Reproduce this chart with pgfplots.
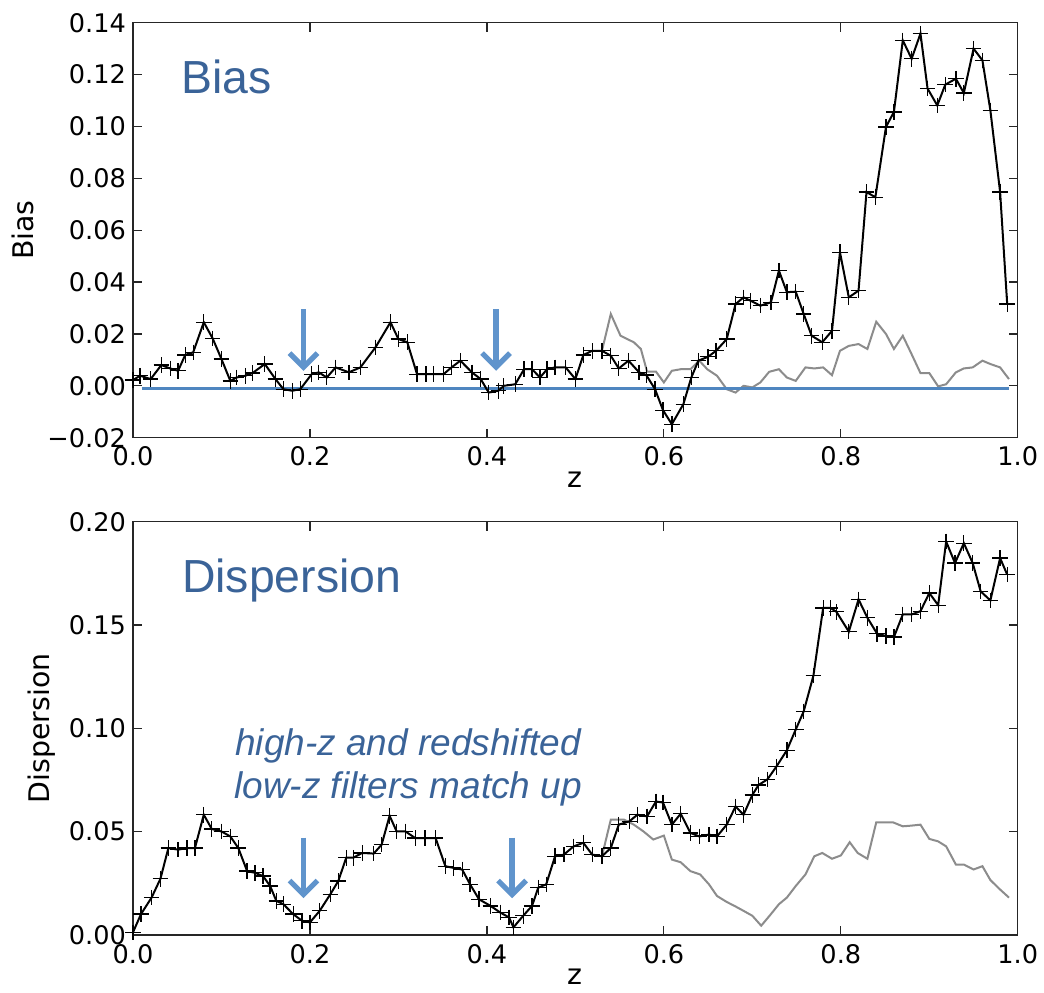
\documentclass[border=0pt]{standalone}
\usepackage{pgfplots}
\pgfplotsset{compat=1.18}
\usepackage{fontspec}
\setmainfont{DejaVu Sans}
\newfontfamily\arial{Liberation Sans}
\usetikzlibrary{arrows.meta}
\definecolor{txtblue}{RGB}{58,99,152}
\definecolor{arrblue}{RGB}{96,148,204}
\definecolor{lineblue}{RGB}{79,134,192}
\definecolor{graylin}{RGB}{140,140,140}
\tikzset{arr/.style={arrblue, line width=2.6pt, -{Straight Barb[length=7pt,width=14pt]}}}
\begin{document}
\begin{tikzpicture}
\useasboundingbox (0,0) rectangle (522pt,496pt);
\pgfplotsset{
  myaxis/.style={
    scale only axis, width=442.4pt,
    xmin=0, xmax=1,
    axis line style={line width=0.6pt, black!85},
    tick align=inside, xtick pos=both, ytick pos=both,
    major tick length=4.5pt,
    every tick/.style={black!85, line width=0.6pt},
    xtick={0,0.2,0.4,0.6,0.8,1.0},
    xticklabels={0.0,0.2,0.4,0.6,0.8,1.0},
    tick label style={font=\fontsize{12.8}{14}\selectfont},
    label style={font=\fontsize{14.2}{16}\selectfont},
    xticklabel style={yshift=-1pt},
    xlabel={z},
    xlabel style={yshift=4pt},
  },
  blk/.style={black, line width=1pt, mark=+, mark size=3.9pt, mark options={line width=0.65pt, black}},
  gry/.style={graylin, line width=1pt, no marks},
}
\begin{axis}[myaxis, at={(66.5pt,277.15pt)}, anchor=south west,
  height=207.5pt, ymin=-0.02, ymax=0.14,
  ytick={-0.02,0,0.02,0.04,0.06,0.08,0.10,0.12,0.14},
  yticklabels={−0.02,0.00,0.02,0.04,0.06,0.08,0.10,0.12,0.14},
  ylabel={Bias}]
\addplot[gry] coordinates {
(0.530,0.0135) (0.540,0.0277) (0.551,0.0193) (0.566,0.0168) (0.574,0.0142)
(0.581,0.0055) (0.591,0.0055) (0.600,0.0013) (0.609,0.0058) (0.619,0.0064)
(0.630,0.0064) (0.640,0.0097) (0.649,0.0064) (0.660,0.0039) (0.671,-0.0013)
(0.681,-0.0026) (0.690,0.0000) (0.700,-0.0006) (0.709,0.0013) (0.719,0.0054)
(0.730,0.0064) (0.739,0.0032) (0.749,0.0019) (0.760,0.0071) (0.770,0.0067)
(0.780,0.0071) (0.790,0.0041) (0.799,0.0135) (0.809,0.0154) (0.820,0.0161)
(0.830,0.0142) (0.840,0.0247) (0.851,0.0200) (0.860,0.0142) (0.870,0.0193)
(0.879,0.0129) (0.890,0.0049) (0.900,0.0049) (0.910,-0.0002) (0.919,0.0006)
(0.930,0.0052) (0.939,0.0067) (0.949,0.0071) (0.960,0.0097) (0.969,0.0084)
(0.980,0.0071) (0.990,0.0026)
};
\addplot[lineblue, line width=1.1pt, no marks] coordinates {(0.01,-0.001) (0.99,-0.001)};
\addplot[blk] coordinates {
(0.000,0.0022) (0.008,0.0039) (0.020,0.0026) (0.032,0.0080) (0.042,0.0067)
(0.051,0.0058) (0.059,0.0119) (0.068,0.0129) (0.080,0.0245) (0.090,0.0183)
(0.100,0.0103) (0.110,0.0019) (0.117,0.0032) (0.127,0.0039) (0.135,0.0049)
(0.149,0.0084) (0.161,0.0026) (0.170,-0.0013) (0.180,-0.0019) (0.189,-0.0013)
(0.202,0.0045) (0.210,0.0052) (0.219,0.0032) (0.229,0.0071) (0.244,0.0052)
(0.257,0.0071) (0.274,0.0148) (0.291,0.0245) (0.300,0.0180) (0.310,0.0168)
(0.321,0.0045) (0.331,0.0045) (0.340,0.0045) (0.351,0.0045) (0.360,0.0071)
(0.370,0.0097) (0.383,0.0052) (0.393,0.0026) (0.402,-0.0026) (0.413,-0.0019)
(0.419,0.0000) (0.432,0.0006) (0.442,0.0064) (0.451,0.0064) (0.460,0.0032)
(0.468,0.0064) (0.477,0.0071) (0.489,0.0071) (0.500,0.0026) (0.509,0.0119)
(0.519,0.0135) (0.530,0.0135) (0.540,0.0116) (0.549,0.0067) (0.560,0.0097)
(0.572,0.0052) (0.580,0.0042) (0.590,-0.0013) (0.599,-0.0094) (0.609,-0.0148)
(0.622,-0.0071) (0.631,0.0032) (0.639,0.0097) (0.650,0.0112) (0.659,0.0135)
(0.671,0.0180) (0.681,0.0315) (0.690,0.0341) (0.698,0.0328) (0.709,0.0309)
(0.721,0.0322) (0.730,0.0444) (0.739,0.0361) (0.749,0.0363) (0.758,0.0277)
(0.767,0.0193) (0.779,0.0168) (0.790,0.0212) (0.799,0.0515) (0.809,0.0341)
(0.820,0.0367) (0.829,0.0747) (0.839,0.0727) (0.851,0.0998) (0.860,0.1056)
(0.870,0.1332) (0.880,0.1261) (0.890,0.1358) (0.898,0.1146) (0.909,0.1081)
(0.918,0.1161) (0.930,0.1184) (0.939,0.1129) (0.950,0.1300) (0.960,0.1255)
(0.969,0.1062) (0.980,0.0747) (0.988,0.0315)
};
\node[anchor=base west, inner sep=0pt, text=txtblue, font=\arial\fontsize{23.2}{26}\selectfont] at (axis cs:0.054,0.1126) {Bias};
\draw[arr] (axis cs:0.1927,0.0296) -- (axis cs:0.1927,0.0058);
\draw[arr] (axis cs:0.4103,0.0296) -- (axis cs:0.4103,0.0058);
\end{axis}
\begin{axis}[myaxis, at={(66.5pt,28.5pt)}, anchor=south west,
  height=206.65pt, ymin=0, ymax=0.2,
  ytick={0,0.05,0.10,0.15,0.20},
  yticklabels={0.00,0.05,0.10,0.15,0.20},
  ylabel={Dispersion}]
\addplot[gry] coordinates {
(0.530,0.0381) (0.540,0.0558) (0.555,0.0558) (0.566,0.0534) (0.577,0.0501)
(0.588,0.0462) (0.600,0.0481) (0.609,0.0365) (0.619,0.0352) (0.630,0.0309)
(0.641,0.0293) (0.651,0.0245) (0.660,0.0189) (0.671,0.0160) (0.681,0.0138)
(0.690,0.0117) (0.700,0.0093) (0.710,0.0045) (0.720,0.0096) (0.730,0.0149)
(0.739,0.0181) (0.749,0.0237) (0.760,0.0293) (0.770,0.0381) (0.779,0.0397)
(0.790,0.0369) (0.800,0.0385) (0.810,0.0449) (0.819,0.0397) (0.830,0.0369)
(0.840,0.0545) (0.851,0.0545) (0.859,0.0545) (0.870,0.0526) (0.879,0.0529)
(0.890,0.0534) (0.900,0.0465) (0.910,0.0453) (0.919,0.0429) (0.930,0.0341)
(0.939,0.0341) (0.950,0.0317) (0.960,0.0333) (0.969,0.0266) (0.979,0.0224)
(0.990,0.0181)
};
\addplot[blk] coordinates {
(0.000,0.0013) (0.009,0.0101) (0.021,0.0181) (0.031,0.0272) (0.040,0.0421)
(0.051,0.0413) (0.061,0.0421) (0.070,0.0421) (0.080,0.0582) (0.089,0.0513)
(0.100,0.0501) (0.110,0.0477) (0.119,0.0421) (0.129,0.0309) (0.138,0.0301)
(0.147,0.0285) (0.155,0.0237) (0.162,0.0165) (0.170,0.0149) (0.181,0.0101)
(0.191,0.0069) (0.200,0.0061) (0.211,0.0117) (0.223,0.0197) (0.232,0.0261)
(0.241,0.0374) (0.249,0.0374) (0.259,0.0397) (0.272,0.0394) (0.281,0.0437)
(0.290,0.0577) (0.298,0.0501) (0.308,0.0501) (0.319,0.0469) (0.330,0.0469)
(0.342,0.0469) (0.353,0.0333) (0.362,0.0325) (0.372,0.0317) (0.381,0.0245)
(0.391,0.0173) (0.404,0.0141) (0.415,0.0109) (0.425,0.0085) (0.430,0.0037)
(0.441,0.0093) (0.451,0.0141) (0.458,0.0229) (0.467,0.0245) (0.477,0.0381)
(0.487,0.0389) (0.498,0.0429) (0.509,0.0446) (0.519,0.0389) (0.530,0.0381)
(0.540,0.0421) (0.549,0.0534) (0.561,0.0550) (0.570,0.0582) (0.581,0.0574)
(0.591,0.0646) (0.599,0.0641) (0.609,0.0534) (0.619,0.0587) (0.630,0.0494)
(0.640,0.0477) (0.651,0.0486) (0.660,0.0477) (0.671,0.0534) (0.681,0.0622)
(0.690,0.0582) (0.700,0.0678) (0.707,0.0726) (0.717,0.0753) (0.727,0.0814)
(0.739,0.0894) (0.749,0.0994) (0.758,0.1082) (0.769,0.1255) (0.780,0.1583)
(0.788,0.1583) (0.795,0.1564) (0.809,0.1468) (0.820,0.1624) (0.830,0.1535)
(0.841,0.1458) (0.851,0.1447) (0.860,0.1442) (0.870,0.1551) (0.880,0.1551)
(0.890,0.1567) (0.900,0.1655) (0.910,0.1596) (0.919,0.1904) (0.929,0.1800)
(0.939,0.1896) (0.949,0.1800) (0.958,0.1663) (0.969,0.1619) (0.980,0.1824)
(0.988,0.1744)
};
\node[anchor=base west, inner sep=0pt, text=txtblue, font=\arial\fontsize{23.2}{26}\selectfont] at (axis cs:0.055,0.1655) {Dispersion};
\node[anchor=base, inner sep=0pt, text=txtblue, font=\arial\itshape\fontsize{18.5}{21}\selectfont] at (axis cs:0.311,0.0870) {high-z and redshifted};
\node[anchor=base, inner sep=0pt, text=txtblue, font=\arial\itshape\fontsize{18.5}{21}\selectfont] at (axis cs:0.311,0.0662) {low-z filters match up};
\draw[arr] (axis cs:0.1927,0.0471) -- (axis cs:0.1927,0.0178);
\draw[arr] (axis cs:0.4284,0.0471) -- (axis cs:0.4284,0.0178);
\end{axis}
\end{tikzpicture}
\end{document}
